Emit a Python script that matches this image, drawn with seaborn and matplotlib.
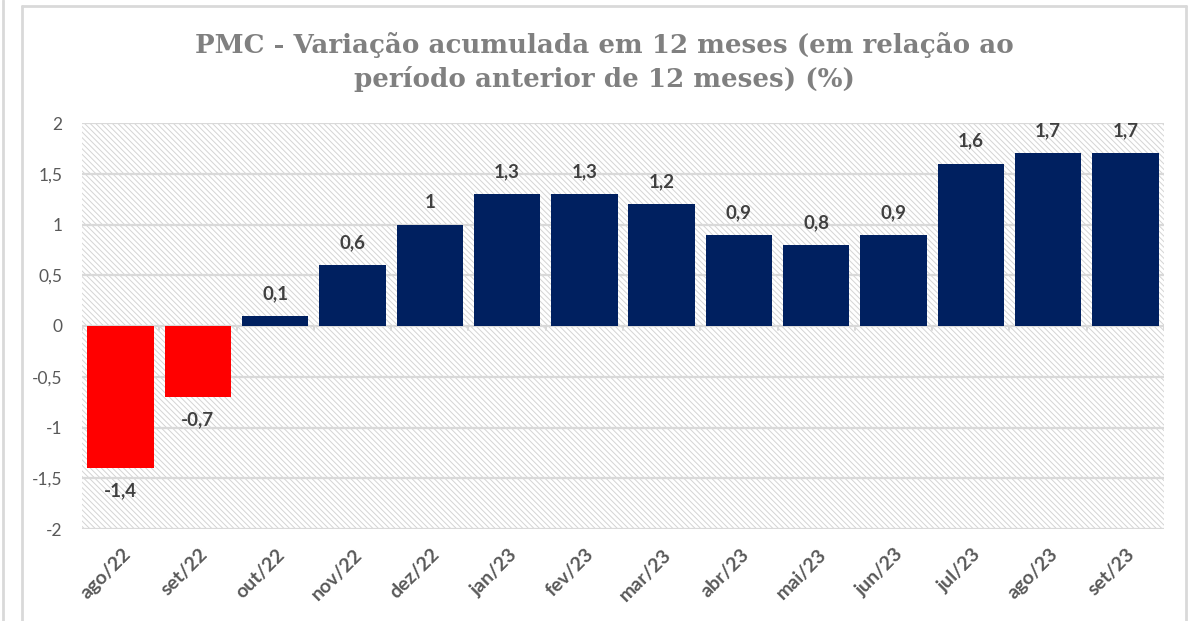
import matplotlib
matplotlib.use("Agg")
import matplotlib.pyplot as plt
import matplotlib.transforms as mtransforms
from matplotlib.patches import Rectangle
from matplotlib.lines import Line2D
import seaborn as sns

# data
months = ["ago/22", "set/22", "out/22", "nov/22", "dez/22", "jan/23", "fev/23",
          "mar/23", "abr/23", "mai/23", "jun/23", "jul/23", "ago/23", "set/23"]
values = [-1.4, -0.7, 0.1, 0.6, 1.0, 1.3, 1.3, 1.2, 0.9, 0.8, 0.9, 1.6, 1.7, 1.7]
yticks = [-2, -1.5, -1, -0.5, 0, 0.5, 1, 1.5, 2]

sns.set_style("white")
plt.rcParams["font.family"] = ["Lato", "DejaVu Sans"]
plt.rcParams["hatch.linewidth"] = 0.7
plt.rcParams["hatch.color"] = "#d4d4d4"

colors = ["#ff0000" if v < 0 else "#002060" for v in values]

fig = plt.figure(figsize=(11.92, 6.21), dpi=100)
ax = fig.add_axes([82 / 1192, 1 - 529 / 621, 1082 / 1192, 406 / 621])

# hatched plot background
ax.add_patch(Rectangle((0, 0), 1, 1, transform=ax.transAxes, facecolor="white",
                       edgecolor="#d4d4d4", hatch="\\\\\\\\\\\\", lw=0, zorder=0))

sns.barplot(x=months, y=values, hue=months, palette=colors, legend=False,
            width=0.86, saturation=1, linewidth=0, ax=ax, zorder=3)

ax.set_ylim(-2, 2)
ax.set_xlim(-0.5, len(months) - 0.5)
ax.set_yticks(yticks)
ax.set_yticklabels([f"{t:g}".replace(".", ",") for t in yticks])
for t in yticks:
    ax.axhline(t, color="#d9d9d9", lw=1.6, zorder=1)
# small ticks on zero line
for i in range(len(months) + 1):
    ax.plot([i - 0.5, i - 0.5], [0, -0.04], color="#d9d9d9", lw=1.4, zorder=1)

for s in ax.spines.values():
    s.set_visible(False)
ax.tick_params(axis="both", length=0, colors="#595959")
ax.tick_params(axis="y", labelsize=12.5, pad=14)
ax.tick_params(axis="x", labelsize=14, pad=12)
ax.set_xlabel("")
ax.set_ylabel("")

offset = mtransforms.ScaledTranslation(0.01, 0, fig.dpi_scale_trans)
for lbl in ax.get_xticklabels():
    lbl.set_rotation(45)
    lbl.set_ha("right")
    lbl.set_va("top")
    lbl.set_rotation_mode("anchor")
    lbl.set_fontweight("bold")
    lbl.set_transform(lbl.get_transform() + offset)

# data labels
for i, v in enumerate(values):
    txt = f"{v:g}".replace(".", ",")
    ax.annotate(txt, (i, v), xytext=(0, 10 if v >= 0 else -10), textcoords="offset points",
                ha="center", va="bottom" if v >= 0 else "top",
                fontsize=13.5, fontweight="bold", color="#404040", zorder=5)

fig.text(604 / 1192, 1 - 62 / 621,
         "PMC - Variação acumulada em 12 meses (em relação ao\nperíodo anterior de 12 meses) (%)",
         ha="center", va="center", fontsize=18.8, fontweight="bold", color="#808080",
         family="DejaVu Serif", linespacing=1.4)

# chart borders
for x in [3 / 1192, 22 / 1192, 1186 / 1192]:
    fig.add_artist(Line2D([x, x], [0, 1 - 6 / 621 if x > 0.01 else 1], color="#d9d9d9", lw=2))
fig.add_artist(Line2D([22 / 1192, 1186 / 1192], [1 - 6 / 621, 1 - 6 / 621], color="#d9d9d9", lw=2))

fig.savefig("out.png", dpi=100)
